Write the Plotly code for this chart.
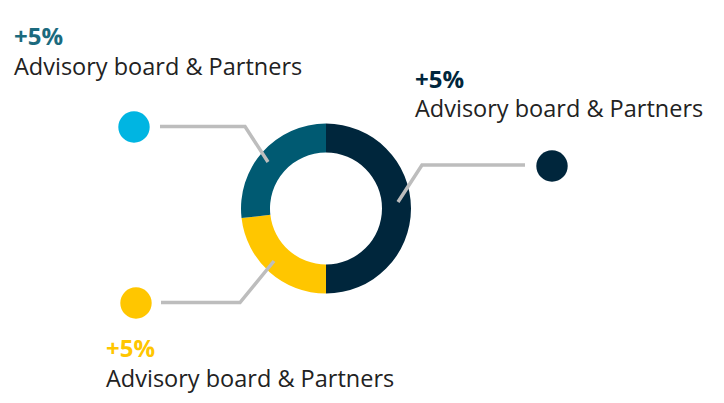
import plotly.graph_objects as go

# ---- data ----
segments = ["Navy", "Yellow", "Teal"]
values = [50.0, 23.2, 26.8]
seg_colors = ["#00263c", "#ffc600", "#005a72"]
changes = ["+5%", "+5%", "+5%"]
labels = ["Advisory board & Partners", "Advisory board & Partners", "Advisory board & Partners"]
change_colors = ["#00263c", "#ffc600", "#1b6a7e"]
dot_colors = ["#00263c", "#ffc600", "#00b5e2"]

W, H = 724, 403
cx, cy, R = 326, 208.5, 85

# layout positions (pixels) for callouts: dot, leader path, text anchor
dots = [(552, 166), (136, 303), (134, 127)]
paths = [
    [(525, 165), (422, 165), (398, 202)],
    [(161, 302.5), (240, 302.5), (274, 261)],
    [(160, 126.5), (245, 126.5), (268, 162)],
]
text_pos = [(413, 78, 107.5), (104, 347, 378), (12, 35.5, 66)]

fig = go.Figure()
fig.add_trace(go.Pie(
    labels=segments, values=values, sort=False, direction="clockwise", rotation=0,
    hole=56 / 85, marker=dict(colors=seg_colors, line=dict(width=0)),
    textinfo="none", hoverinfo="skip", showlegend=False,
    domain=dict(x=[(cx - R) / W, (cx + R) / W], y=[1 - (cy + R) / H, 1 - (cy - R) / H]),
))

shapes = []
for pts in paths:
    d = "M " + " L ".join(f"{x},{y}" for x, y in pts)
    shapes.append(dict(type="path", path=d, xref="x", yref="y",
                       line=dict(color="#bdbdbd", width=3.5)))
r = 15.7
for (x, y), c in zip(dots, dot_colors):
    shapes.append(dict(type="circle", xref="x", yref="y", x0=x - r, x1=x + r, y0=y - r, y1=y + r,
                       fillcolor=c, line=dict(width=0)))

annotations = []
for (x, y1, y2), ch, cc, lb in zip(text_pos, changes, change_colors, labels):
    annotations.append(dict(x=x, y=y1, xref="x", yref="y", text=f"<b>{ch}</b>", showarrow=False,
                            xanchor="left", yanchor="middle",
                            font=dict(family="Open Sans", size=24, color=cc)))
    annotations.append(dict(x=x, y=y2, xref="x", yref="y", text=lb, showarrow=False,
                            xanchor="left", yanchor="middle",
                            font=dict(family="Open Sans", size=23.5, color="#222222")))

fig.update_layout(
    width=W, height=H, margin=dict(l=0, r=0, t=0, b=0),
    paper_bgcolor="white", plot_bgcolor="white",
    xaxis=dict(range=[0, W], visible=False, fixedrange=True),
    yaxis=dict(range=[H, 0], visible=False, fixedrange=True),
    shapes=shapes, annotations=annotations, showlegend=False,
)
fig.write_html("out.html")
